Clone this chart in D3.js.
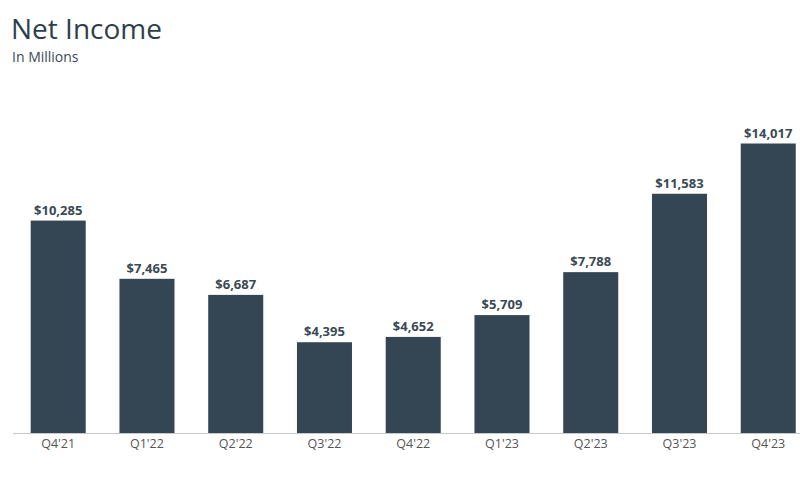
<!DOCTYPE html>
<html lang="en">
<head>
<meta charset="utf-8">
<script src="https://cdn.jsdelivr.net/npm/d3@7"></script>
<style>
body{margin:0;background:#fff;}
text{font-family:"Open Sans",sans-serif;}
</style>
</head>
<body>
<div id="chart"></div>
<script>
const quarters = ["Q4'21","Q1'22","Q2'22","Q3'22","Q4'22","Q1'23","Q2'23","Q3'23","Q4'23"]
const netIncome = [10285,7465,6687,4395,4652,5709,7788,11583,14017]

const W = 800, H = 478
const baseY = 433
const barColor = "#344653"

const svg = d3.select("#chart").append("svg").attr("width", W).attr("height", H)

// title block
svg.append("text").attr("x", 11).attr("y", 39).text("Net Income")
  .style("font-size", "28px").style("fill", "#2e3f4b")
svg.append("text").attr("x", 12).attr("y", 62).text("In Millions")
  .style("font-size", "14px").style("fill", "#3b4a55")

const x = d3.scaleBand().domain(quarters)
  .range([12.95, 813.5]).paddingInner(0.38).paddingOuter(0.2)
const y = d3.scaleLinear().domain([0, 14017]).range([baseY, 143.5])

svg.selectAll("rect.bar").data(netIncome).join("rect").attr("class","bar")
  .attr("x", (d,i) => x(quarters[i]))
  .attr("y", d => y(d))
  .attr("width", x.bandwidth())
  .attr("height", d => baseY - y(d))
  .attr("fill", barColor)

svg.selectAll("text.val").data(netIncome).join("text").attr("class","val")
  .attr("x", (d,i) => x(quarters[i]) + x.bandwidth()/2)
  .attr("y", d => y(d) - 6)
  .attr("text-anchor","middle")
  .text(d => "$" + d3.format(",")(d))
  .style("font-size","13px").style("font-weight","700").style("fill","#3a4954")

// axis line
svg.append("line").attr("x1", 13).attr("x2", 800).attr("y1", baseY+0.5).attr("y2", baseY+0.5)
  .attr("stroke","#c8c8c8").attr("stroke-width",1)

svg.selectAll("text.cat").data(quarters).join("text").attr("class","cat")
  .attr("x", d => x(d) + x.bandwidth()/2)
  .attr("y", 448)
  .attr("text-anchor","middle")
  .text(d => d)
  .style("font-size","12.5px").style("fill","#555")
</script>
</body>
</html>
